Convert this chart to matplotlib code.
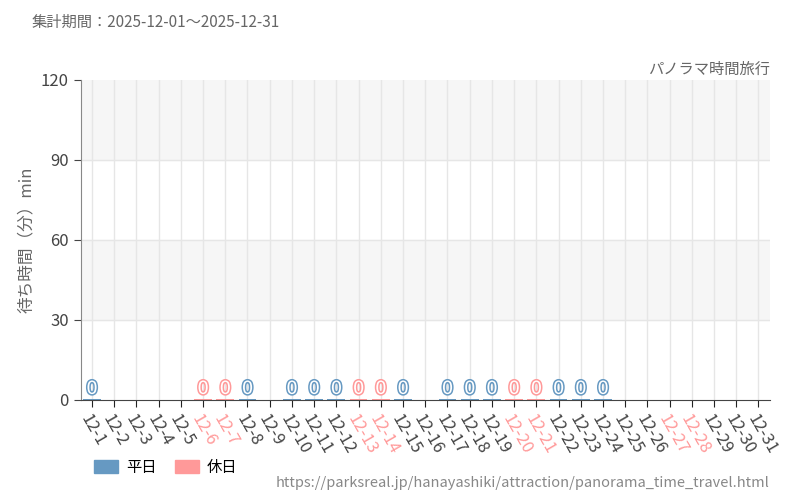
import matplotlib
matplotlib.use('Agg')
import matplotlib.pyplot as plt
import matplotlib.patheffects as pe
from matplotlib.patches import Patch

plt.rcParams['font.family'] = ['Noto Sans CJK JP', 'DejaVu Sans']

days = ['12-%d' % d for d in range(1, 32)]
# 0 = no data, 1 = weekday, 2 = holiday
kind = [1, 0, 0, 0, 0, 2, 2, 1, 0, 1, 1, 1, 2, 2, 1, 0, 1, 1, 1, 2, 2, 1, 1, 1, 0, 0, 0, 0, 0, 0, 0]
holiday_days = [6, 7, 13, 14, 20, 21, 27, 28]
wait = [0] * 31

blue = '#6699c2'
pink = '#ff9999'

fig = plt.figure(figsize=(8, 5), dpi=100)
ax = fig.add_axes([0.101, 0.2, 0.861, 0.64])
for lo in (30, 90):
    ax.axhspan(lo, lo + 30, color='#f6f6f6', zorder=0)
x = list(range(31))
for i in x:
    ax.axvline(i, color='#e6e6e6', lw=1, zorder=0)
for v in (30, 60, 90):
    ax.axhline(v, color='#e6e6e6', lw=1, zorder=0)

for i, k in enumerate(kind):
    if k == 0:
        continue
    c = blue if k == 1 else pink
    ax.bar(i, max(wait[i], 0.5), width=0.8, color=c, zorder=2)
    t = ax.text(i, wait[i] + 0.8, str(wait[i]), ha='center', va='bottom', fontsize=13,
                color='white', zorder=3, family='DejaVu Sans')
    t.set_path_effects([pe.Stroke(linewidth=2.2, foreground=c), pe.Normal()])

ax.set_xlim(-0.5, 30.5)
ax.set_ylim(0, 120)
ax.set_yticks([0, 30, 60, 90, 120])
ax.set_xticks(x)
ax.set_xticklabels(days, rotation=-60, ha='left', rotation_mode='anchor', fontsize=12)
for lbl, d in zip(ax.get_xticklabels(), range(1, 32)):
    lbl.set_color(pink if d in holiday_days else '#444444')
ax.tick_params(axis='y', labelsize=12, colors='#444444', length=5)
ax.tick_params(axis='x', length=5, color='#222222')
for s in ('top', 'right'):
    ax.spines[s].set_visible(False)
ax.spines['left'].set_color('#888888')
ax.spines['bottom'].set_color('#444444')
ax.set_ylabel('待ち時間（分）min', fontsize=12, color='#666666')

fig.text(0.04, 0.955, '集計期間：2025-12-01〜2025-12-31', fontsize=11, color='#666666', va='center')
fig.text(0.962, 0.862, 'パノラマ時間旅行', fontsize=11, color='#666666', ha='right', va='center')
fig.text(0.962, 0.035, 'https://parksreal.jp/hanayashiki/attraction/panorama_time_travel.html',
         fontsize=10.5, color='#888888', ha='right', va='center')
fig.legend(handles=[Patch(color=blue, label='平日'), Patch(color=pink, label='休日')],
           loc='center left', bbox_to_anchor=(0.1, 0.065), ncol=2, frameon=False,
           fontsize=11, handlelength=1.6, handleheight=0.9, handletextpad=0.5, columnspacing=1.2)

fig.savefig('out.png')
